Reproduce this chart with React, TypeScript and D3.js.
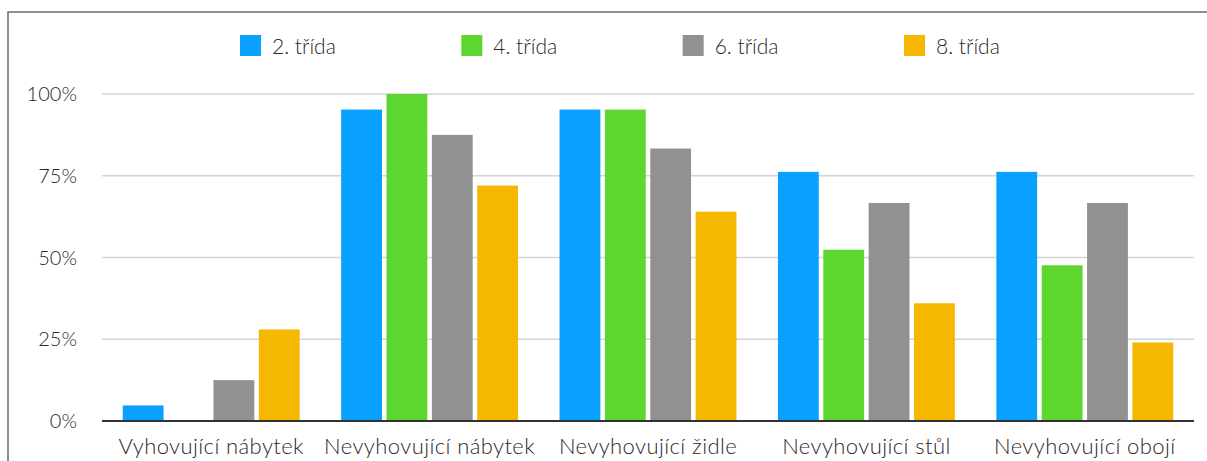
import React from "react";
import * as d3 from "d3";

// Share of pupils per furniture category, by school grade (percent)
const categories = [
  "Vyhovující nábytek",
  "Nevyhovující nábytek",
  "Nevyhovující židle",
  "Nevyhovující stůl",
  "Nevyhovující obojí",
];
const seriesNames = ["2. třída", "4. třída", "6. třída", "8. třída"];
const grade2 = [4.76, 95.24, 95.24, 76.19, 76.19];
const grade4 = [0, 100, 95.24, 52.38, 47.62];
const grade6 = [12.5, 87.5, 83.33, 66.67, 66.67];
const grade8 = [28, 72, 64, 36, 24];
const seriesValues = [grade2, grade4, grade6, grade8];
const seriesColors = ["#0aa0ff", "#5dd62f", "#919191", "#f5b800"];
const yTicks = [0, 25, 50, 75, 100];

const W = 1207;
const H = 461;
const margin = { left: 102, right: 13, top: 94, bottom: 40 };
const FONT = "Lato, 'Open Sans', sans-serif";

export default function App() {
  const x0 = d3
    .scaleBand<string>()
    .domain(categories)
    .range([margin.left, W - margin.right])
    .paddingInner(0.19)
    .paddingOuter(0.095);
  const x1 = d3
    .scaleBand<string>()
    .domain(seriesNames)
    .range([0, x0.bandwidth()])
    .paddingInner(0.1);
  const y = d3
    .scaleLinear()
    .domain([0, 100])
    .range([421, margin.top]);

  const legendX = d3
    .scalePoint<string>()
    .domain(seriesNames)
    .range([240, 904]);

  return (
    <svg
      width={W}
      height={H}
      style={{ position: "absolute", left: 0, top: 0, background: "#fff" }}
      fontFamily={FONT}
    >
      {/* outer frame */}
      <rect x={8} y={12} width={W + 10} height={H + 20} fill="none" stroke="#6b6b6b" strokeWidth={1.5} />

      {/* legend */}
      {seriesNames.map((s, i) => (
        <g key={s}>
          <rect x={legendX(s)} y={35} width={21} height={21} fill={seriesColors[i]} />
          <text x={(legendX(s) as number) + 32} y={54} fontSize={21} fontWeight={300} fill="#2a2a2a">
            {s}
          </text>
        </g>
      ))}

      {/* grid and y labels */}
      {yTicks.map((t) => (
        <g key={t}>
          {t > 0 && (
            <line
              x1={margin.left}
              x2={W - margin.right}
              y1={y(t)}
              y2={y(t)}
              stroke="#d4d4d4"
              strokeWidth={1.5}
            />
          )}
          <text
            x={77}
            y={y(t)}
            dy="0.35em"
            textAnchor="end"
            fontSize={20}
            fontWeight={300}
            fill="#2a2a2a"
          >
            {t}%
          </text>
        </g>
      ))}

      {/* bars */}
      {categories.map((c, ci) => (
        <g key={c} transform={`translate(${x0(c)},0)`}>
          {seriesNames.map((s, si) => {
            const v = seriesValues[si][ci];
            if (v <= 0) return null;
            return (
              <rect
                key={s}
                x={x1(s)}
                y={y(v)}
                width={x1.bandwidth()}
                height={y(0) - y(v)}
                fill={seriesColors[si]}
              />
            );
          })}
        </g>
      ))}

      {/* baseline */}
      <line x1={margin.left} x2={W - margin.right} y1={y(0)} y2={y(0)} stroke="#333" strokeWidth={2} />

      {/* category labels */}
      {categories.map((c) => (
        <text
          key={c}
          x={(x0(c) as number) + x0.bandwidth() / 2}
          y={454}
          textAnchor="middle"
          fontSize={22}
          fontWeight={300}
          letterSpacing={0.4}
          fill="#2a2a2a"
        >
          {c}
        </text>
      ))}
    </svg>
  );
}
